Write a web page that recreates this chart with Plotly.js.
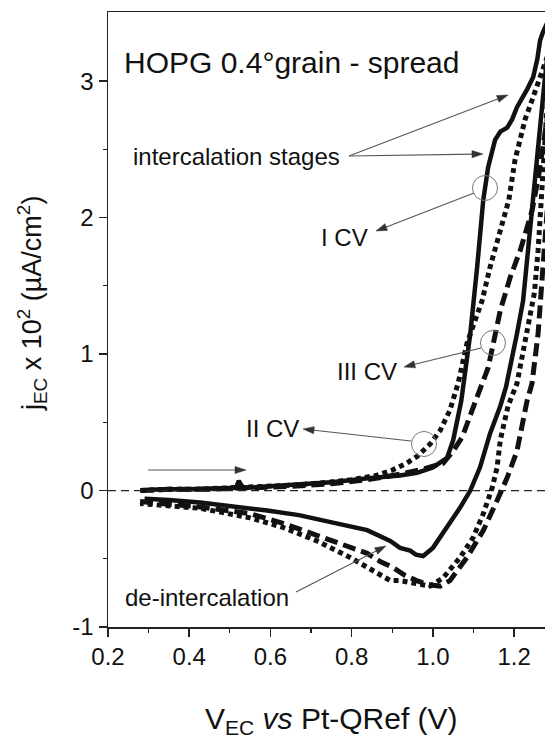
<!DOCTYPE html>
<html>
<head>
<meta charset="utf-8">
<script src="https://cdn.plot.ly/plotly-3.0.1.min.js"></script>
<style>html,body{margin:0;padding:0;background:#fff}#chart{width:545px;height:738px}</style>
</head>
<body>
<div id="chart"></div>
<script>
// ---- data ----
// I CV (solid)
const cv1_V = [0.28,0.33,0.40,0.47,0.515,0.522,0.53,0.54,0.60,0.67,0.75,0.84,0.919,0.961,1.0,1.035,1.05,1.07,1.092,1.109,1.124,1.136,1.153,1.166,1.183,1.195,1.207,1.232,1.247,1.257,1.264,1.271,1.285,1.30,
               1.29,1.275,1.262,1.252,1.247,1.239,1.222,1.207,1.18,1.166,1.141,1.116,1.092,1.067,1.035,1.0,0.976,0.958,0.944,0.919,0.895,0.838,0.754,0.67,0.592,0.50,0.427,0.35,0.29];
const cv1_j = [0.00,0.01,0.01,0.02,0.02,0.07,0.03,0.02,0.03,0.04,0.06,0.09,0.11,0.13,0.17,0.24,0.37,0.66,1.15,1.64,2.13,2.37,2.57,2.63,2.66,2.72,2.81,2.94,3.03,3.16,3.30,3.36,3.45,3.50,
               3.40,3.00,2.60,2.30,2.13,1.89,1.39,1.15,0.76,0.62,0.42,0.17,0.00,-0.125,-0.27,-0.42,-0.48,-0.47,-0.44,-0.42,-0.37,-0.29,-0.235,-0.18,-0.147,-0.11,-0.088,-0.07,-0.06];
// II CV (dotted)
const cv2_V = [0.28,0.35,0.42,0.50,0.58,0.66,0.74,0.80,0.86,0.90,0.935,0.961,0.993,1.018,1.042,1.062,1.084,1.099,1.121,1.141,1.166,1.187,1.202,1.215,1.227,1.244,1.259,1.275,1.29,
               1.285,1.275,1.268,1.259,1.25,1.232,1.207,1.185,1.166,1.158,1.146,1.124,1.099,1.067,1.025,0.993,0.961,0.919,0.895,0.853,0.796,0.715,0.631,0.55,0.427,0.34,0.279];
const cv2_j = [0.00,0.01,0.01,0.02,0.03,0.04,0.06,0.08,0.11,0.15,0.20,0.25,0.34,0.44,0.59,0.785,1.08,1.20,1.39,1.64,1.89,2.13,2.42,2.57,2.72,2.86,2.99,3.12,3.25,
               3.00,2.50,2.13,1.76,1.45,1.15,0.785,0.62,0.37,0.17,0.02,-0.17,-0.345,-0.49,-0.64,-0.70,-0.68,-0.66,-0.66,-0.59,-0.49,-0.37,-0.27,-0.20,-0.13,-0.11,-0.095];
// III CV (dashed)
const cv3_V = [0.28,0.35,0.45,0.55,0.65,0.75,0.84,0.92,0.98,1.025,1.05,1.072,1.092,1.108,1.136,1.148,1.166,1.19,1.215,1.244,1.26,1.275,1.29,
               1.30,1.285,1.271,1.259,1.244,1.232,1.207,1.183,1.158,1.124,1.084,1.042,1.018,0.99,0.96,0.93,0.902,0.87,0.838,0.754,0.70,0.631,0.55,0.427,0.35,0.279];
const cv3_j = [0.00,0.01,0.01,0.02,0.03,0.05,0.08,0.12,0.16,0.20,0.29,0.39,0.54,0.68,0.90,1.08,1.32,1.56,1.76,2.05,2.30,2.60,2.90,
               3.00,2.20,1.64,1.15,0.785,0.66,0.29,0.095,-0.073,-0.293,-0.49,-0.66,-0.70,-0.69,-0.66,-0.62,-0.565,-0.52,-0.46,-0.37,-0.32,-0.24,-0.17,-0.12,-0.10,-0.08];

const xTickVals = [0.2,0.4,0.6,0.8,1.0,1.2];
const xTickText = ['0.2','0.4','0.6','0.8','1.0','1.2'];
const yTickVals = [-1,0,1,2,3];
const yTickText = ['-1','0','1','2','3'];

// ---- layout geometry ----
const W = 545, H = 738;
const L = 108, T = 12, PW = 437, PH = 615;
const XR = [0.2, 1.276], YR = [-1, 3.507];
const px2x = p => XR[0] + (p - L) / PW * (XR[1] - XR[0]);
const py2y = p => YR[1] - (p - T) / PH * (YR[1] - YR[0]);
const pxp = p => (p - L) / PW;          // paper x
const pyp = p => (T + PH - p) / PH;     // paper y

const FONT = 'Liberation Sans, Arial, sans-serif';
const INK = '#111';
const ARC = '#555';

const traces = [
  {x: cv1_V, y: cv1_j, mode: 'lines', name: 'I CV', line: {color: INK, width: 4.5}},
  {x: cv2_V, y: cv2_j, mode: 'lines', name: 'II CV', line: {color: INK, width: 5, dash: '5px,4px'}},
  {x: cv3_V, y: cv3_j, mode: 'lines', name: 'III CV', line: {color: INK, width: 5, dash: '13px,6px'}}
];

// arrows drawn as a line + filled triangular head (pixel geometry converted to axis units)
function arrowShapes(tx, ty, hx, hy) {
  const dx = hx - tx, dy = hy - ty, len = Math.hypot(dx, dy);
  const ux = dx / len, uy = dy / len, nx = -uy, ny = ux;
  const hl = 11, hw = 3.6;
  const bx = hx - ux * hl, by = hy - uy * hl;
  const p = (a, b) => px2x(a) + ',' + py2y(b);
  return [
    {type: 'line', xref: 'x', yref: 'y', x0: px2x(tx), y0: py2y(ty), x1: px2x(bx + ux * 2), y1: py2y(by + uy * 2),
     line: {color: ARC, width: 1.1}},
    {type: 'path', xref: 'x', yref: 'y',
     path: 'M' + p(hx, hy) + ' L' + p(bx + nx * hw, by + ny * hw) + ' L' + p(bx - nx * hw, by - ny * hw) + ' Z',
     fillcolor: '#333', line: {color: '#333', width: 0.5}}
  ];
}
function label(txt, cx, cy, size, anchor) {
  return {x: pxp(cx), y: pyp(cy), xref: 'paper', yref: 'paper', text: txt, showarrow: false,
          xanchor: anchor || 'center', yanchor: 'middle', font: {family: FONT, size: size, color: INK}};
}
function circle(cx, cy, r) {
  return {type: 'circle', xref: 'x', yref: 'y', xsizemode: 'pixel', ysizemode: 'pixel',
          xanchor: px2x(cx), yanchor: py2y(cy), x0: -r, x1: r, y0: -r, y1: r,
          line: {color: '#777', width: 1}};
}

const layout = {
  width: W, height: H,
  margin: {l: L, r: W - L - PW, t: T, b: H - T - PH, pad: 0},
  paper_bgcolor: '#fff', plot_bgcolor: '#fff',
  showlegend: false,
  font: {family: FONT, color: INK},
  xaxis: {range: XR, tickvals: xTickVals, ticktext: xTickText, ticks: 'outside', ticklen: 8, tickwidth: 1.5,
          tickcolor: '#222', showline: true, linecolor: '#222', linewidth: 1.5, mirror: true,
          showgrid: false, zeroline: false, tickfont: {family: FONT, size: 24, color: INK},
          minor: {dtick: 0.1, ticks: 'outside', ticklen: 4, tickwidth: 1.2, tickcolor: '#222', showgrid: false}},
  yaxis: {range: YR, tickvals: yTickVals, ticktext: yTickText, ticks: 'outside', ticklen: 8, tickwidth: 1.5,
          tickcolor: '#222', showline: true, linecolor: '#222', linewidth: 1.5, mirror: false,
          showgrid: false, zeroline: false, tickfont: {family: FONT, size: 24, color: INK},
          minor: {tickvals: [-0.5,0.5,1.5,2.5], ticks: 'outside', ticklen: 4, tickwidth: 1.2, tickcolor: '#222', showgrid: false}},
  shapes: [
    {type: 'line', xref: 'paper', yref: 'y', x0: 0, x1: 1, y0: 0, y1: 0, line: {color: '#222', width: 1.3, dash: '8px,5px'}},
    circle(485, 188, 12.5),
    circle(493, 343, 12.5),
    circle(424, 444, 12.5),
    ...arrowShapes(349, 156, 508, 95),
    ...arrowShapes(349, 156, 483, 154),
    ...arrowShapes(474, 193, 376, 231),
    ...arrowShapes(481, 348, 404, 367),
    ...arrowShapes(411, 441, 303, 429),
    ...arrowShapes(296, 592, 386, 546),
    ...arrowShapes(148, 470, 246, 470)
  ],
  annotations: [
    label('HOPG 0.4°grain - spread', 122, 62, 30, 'left'),
    label('intercalation stages', 236, 156, 24),
    label('I CV', 344, 237, 24),
    label('III CV', 367, 371, 24),
    label('II CV', 272, 428, 24),
    label('de-intercalation', 207, 597, 24),
    label('V<sub>EC</sub> <i>vs</i> Pt-QRef (V)', 331, 720, 30),
    {x: pxp(32), y: pyp(304), xref: 'paper', yref: 'paper', showarrow: false, textangle: -90,
     text: 'j<sub>EC</sub> x 10<sup>2</sup> (µA/cm<sup>2</sup>)', xanchor: 'center', yanchor: 'middle',
     font: {family: FONT, size: 27, color: INK}}
  ]
};

Plotly.newPlot('chart', traces, layout, {staticPlot: true, displayModeBar: false});
</script>
</body>
</html>
